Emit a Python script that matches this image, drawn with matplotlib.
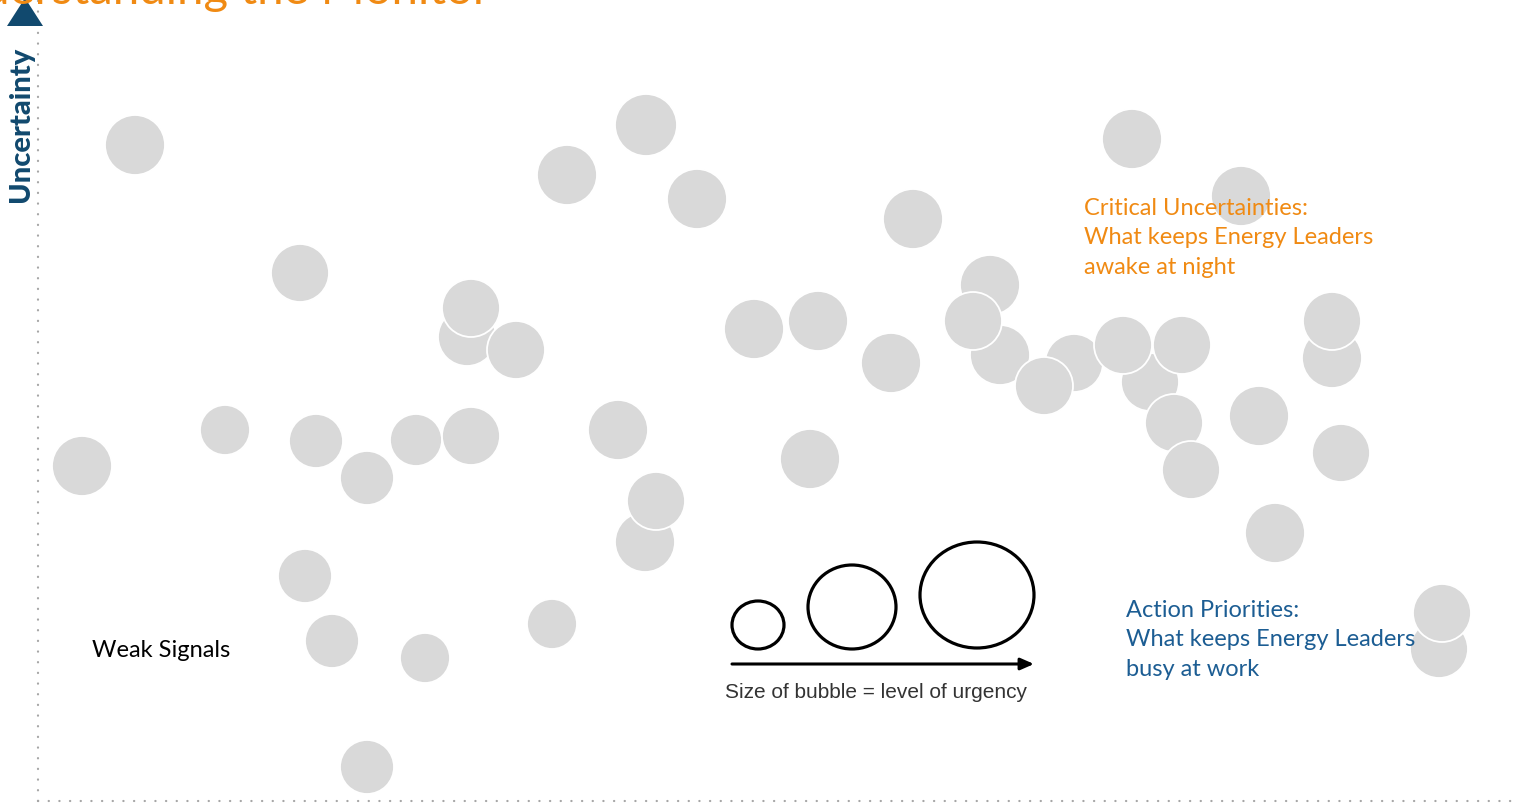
import matplotlib
matplotlib.use("Agg")
import matplotlib.pyplot as plt
from matplotlib.patches import Circle, Ellipse, Polygon

# === Bubble data (urgency on x, uncertainty on y, radius = bubble size) ===
impact = [97, 262, 529, 608, 659, 875, 1094, 1203, 44, 187, 278, 329, 378, 433,
          429, 433, 478, 580, 607, 618, 267, 294, 387, 514, 329, 716, 780, 853,
          772, 952, 962, 935, 1036, 1006, 1112, 1085, 1144, 1136, 1153, 1221,
          1294, 1294, 1303, 1237, 1401, 1404]
uncertainty = [656, 528, 626, 676, 602, 582, 662, 605, 335, 371, 360, 323, 361, 365,
               464, 493, 451, 371, 259, 300, 225, 160, 143, 177, 34, 472, 480, 438,
               342, 516, 446, 480, 438, 415, 419, 456, 456, 378, 331, 385,
               443, 480, 348, 268, 152, 188]
bubble_size = [30, 29, 30, 31, 30, 30, 30, 30, 30, 25, 27, 27, 26, 29,
               29, 29, 29, 30, 30, 29, 27, 27, 25, 25, 27, 30, 30, 30,
               30, 30, 30, 29, 29, 29, 29, 29, 29, 29, 29, 30,
               30, 29, 29, 30, 29, 29]

legend_sizes = [(26, 24), (44, 42), (57, 53)]
legend_x = [720, 814, 939]
legend_y = [176, 194, 206]

title = "Understanding the Monitor"
quadrant_labels = {
    "critical": "Critical Uncertainties:\nWhat keeps Energy Leaders\nawake at night",
    "action": "Action Priorities:\nWhat keeps Energy Leaders\nbusy at work",
    "weak": "Weak Signals",
}

ORANGE = "#f08a13"
BLUE = "#1c5d93"
NAVY = "#11496e"
BUBBLE = "#d9d9d9"

W, H = 1537, 806
fig = plt.figure(figsize=(W / 100, H / 100), dpi=100)
x0, y0 = 38, 5
ax = fig.add_axes([x0 / W, y0 / H, (W - x0) / W, (H - y0) / H])
ax.set_xlim(0, W - x0)
ax.set_ylim(0, H - y0)
ax.set_aspect("equal", adjustable="box")

for s in ["top", "right"]:
    ax.spines[s].set_visible(False)
for s in ["left", "bottom"]:
    ax.spines[s].set_linestyle((0, (0.1, 4.7)))
    ax.spines[s].set_linewidth(1.6)
    ax.spines[s].set_capstyle("round")
    ax.spines[s].set_color("#a6a6a6")
ax.spines["bottom"].set_bounds(0, 1475)
ax.set_xticks([])
ax.set_yticks([])

# bubbles
for x, y, r in zip(impact, uncertainty, bubble_size):
    ax.add_patch(Circle((x, y), r, facecolor=BUBBLE, edgecolor="white",
                        linewidth=1.3, zorder=2))

# arrow head on the y axis
ax.add_patch(Polygon([[-31, 775], [5, 775], [-13, 803]], closed=True,
                     facecolor=NAVY, edgecolor="none", clip_on=False, zorder=4))

ax.text(-17, 677, "Uncertainty", rotation=90, ha="center", va="center",
        color=NAVY, fontsize=21, fontweight="black", family="Lato")

fig.text(490 / W, 1 - 4 / H, title, ha="right", va="baseline",
         color=ORANGE, fontsize=34, family="Lato")

# quadrant labels (baseline = last line)
ax.text(1046, 527, quadrant_labels["critical"], color=ORANGE, fontsize=17,
        family="Lato", va="baseline", ha="left", linespacing=1.5, zorder=5)
ax.text(1088, 125, quadrant_labels["action"], color=BLUE, fontsize=17,
        family="Lato", va="baseline", ha="left", linespacing=1.5, zorder=5)
ax.text(54, 144, quadrant_labels["weak"], color="black", fontsize=17,
        family="Lato", va="baseline", ha="left", zorder=5)

# size legend
for lx, ly, (rx, ry) in zip(legend_x, legend_y, legend_sizes):
    ax.add_patch(Ellipse((lx, ly), 2 * rx, 2 * ry, facecolor="none",
                         edgecolor="black", linewidth=2.3, zorder=3))
ax.annotate("", xy=(996, 137), xytext=(694, 137),
            arrowprops=dict(arrowstyle="-|>,head_length=0.8,head_width=0.35",
                            color="black", lw=2.2, shrinkA=0, shrinkB=0))
ax.text(838, 109, "Size of bubble = level of urgency", ha="center", va="center",
        color="#333333", fontsize=15,
        family=["Liberation Sans Narrow", "Liberation Sans", "DejaVu Sans"])

fig.savefig("out.png", dpi=100)
